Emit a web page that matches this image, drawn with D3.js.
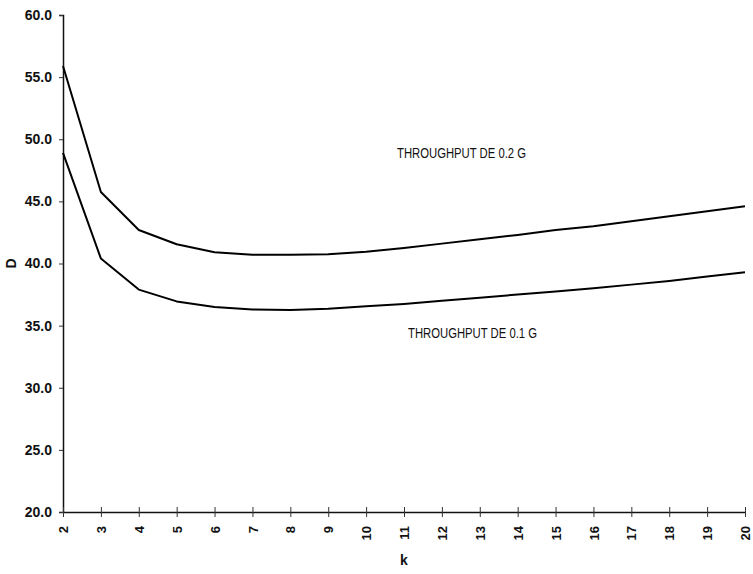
<!DOCTYPE html>
<html>
<head>
<meta charset="utf-8">
<script src="https://cdn.jsdelivr.net/npm/d3@7"></script>
<style>
  html, body { margin: 0; padding: 0; background: #fff; }
  svg text { font-family: "Liberation Sans", Arial, sans-serif; fill: #111; }
</style>
</head>
<body>
<div id="chart"></div>
<script>
// data
const kValues = [2, 3, 4, 5, 6, 7, 8, 9, 10, 11, 12, 13, 14, 15, 16, 17, 18, 19, 20]
const seriesHigh = [55.9, 45.75, 42.7, 41.55, 40.9, 40.7, 40.7, 40.75, 40.95, 41.25, 41.6, 41.95, 42.3, 42.7, 43.0, 43.4, 43.8, 44.2, 44.6]
const seriesLow = [48.9, 40.4, 37.9, 36.95, 36.5, 36.3, 36.25, 36.35, 36.55, 36.75, 37.0, 37.25, 37.5, 37.75, 38.0, 38.3, 38.6, 38.95, 39.3]
const yTicks = [20, 25, 30, 35, 40, 45, 50, 55, 60]
const labelHigh = 'THROUGHPUT DE 0.2 G'
const labelLow = 'THROUGHPUT DE 0.1 G'

const width = 753
const height = 574
const margin = { top: 15, right: 8, bottom: 62, left: 63 }

const svg = d3.select('#chart')
  .append('svg')
  .attr('width', width)
  .attr('height', height)

const x = d3.scaleLinear()
  .domain([2, 20])
  .range([margin.left, width - margin.right])

const y = d3.scaleLinear()
  .domain([20, 60])
  .range([height - margin.bottom, margin.top])

// y axis
const yAxis = svg.append('g')
  .attr('transform', `translate(${margin.left},0)`)
  .call(d3.axisLeft(y).tickValues(yTicks).tickFormat(d3.format('.1f')).tickSize(4).tickPadding(7))
yAxis.select('.domain').attr('stroke', '#111').attr('stroke-width', 1.5)
yAxis.selectAll('.tick line').attr('x2', -4).attr('x1', 0).attr('stroke', '#333')
yAxis.selectAll('.tick text')
  .style('font-size', '14px')
  .style('font-weight', 'bold')

// x axis
const xAxis = svg.append('g')
  .attr('transform', `translate(0,${y(20)})`)
  .call(d3.axisBottom(x).tickValues(kValues).tickFormat(d3.format('d')).tickSizeOuter(0))
xAxis.select('.domain').attr('stroke', '#111').attr('stroke-width', 1.5)
// ticks cross the axis
xAxis.selectAll('.tick line').attr('y1', -5).attr('y2', 5).attr('stroke', '#333')
xAxis.selectAll('.tick text')
  .attr('transform', 'rotate(-90)')
  .attr('x', -14)
  .attr('y', 0)
  .attr('dy', '0.35em')
  .attr('text-anchor', 'end')
  .style('font-size', '13px')
  .style('font-weight', 'bold')

// axis titles
svg.append('text')
  .attr('x', (x(2) + x(20)) / 2)
  .attr('y', 565)
  .attr('text-anchor', 'middle')
  .style('font-size', '14px')
  .style('font-weight', 'bold')
  .text('k')

svg.append('text')
  .attr('transform', `translate(16,${y(40)}) rotate(-90)`)
  .attr('text-anchor', 'middle')
  .style('font-size', '14px')
  .style('font-weight', 'bold')
  .text('D')

// curves
const line = d3.line()
  .x((d, i) => x(kValues[i]))
  .y(d => y(d))

svg.selectAll('.curve')
  .data([seriesHigh, seriesLow])
  .enter()
  .append('path')
  .attr('class', 'curve')
  .attr('d', d => line(d))
  .attr('fill', 'none')
  .attr('stroke', '#000')
  .attr('stroke-width', 2)
  .attr('stroke-linejoin', 'round')

// annotations (condensed lettering)
svg.append('text')
  .attr('x', 397)
  .attr('y', 158)
  .attr('textLength', 129)
  .attr('lengthAdjust', 'spacingAndGlyphs')
  .style('font-size', '14px')
  .text(labelHigh)

svg.append('text')
  .attr('x', 408)
  .attr('y', 338)
  .attr('textLength', 129)
  .attr('lengthAdjust', 'spacingAndGlyphs')
  .style('font-size', '14px')
  .text(labelLow)
</script>
</body>
</html>
